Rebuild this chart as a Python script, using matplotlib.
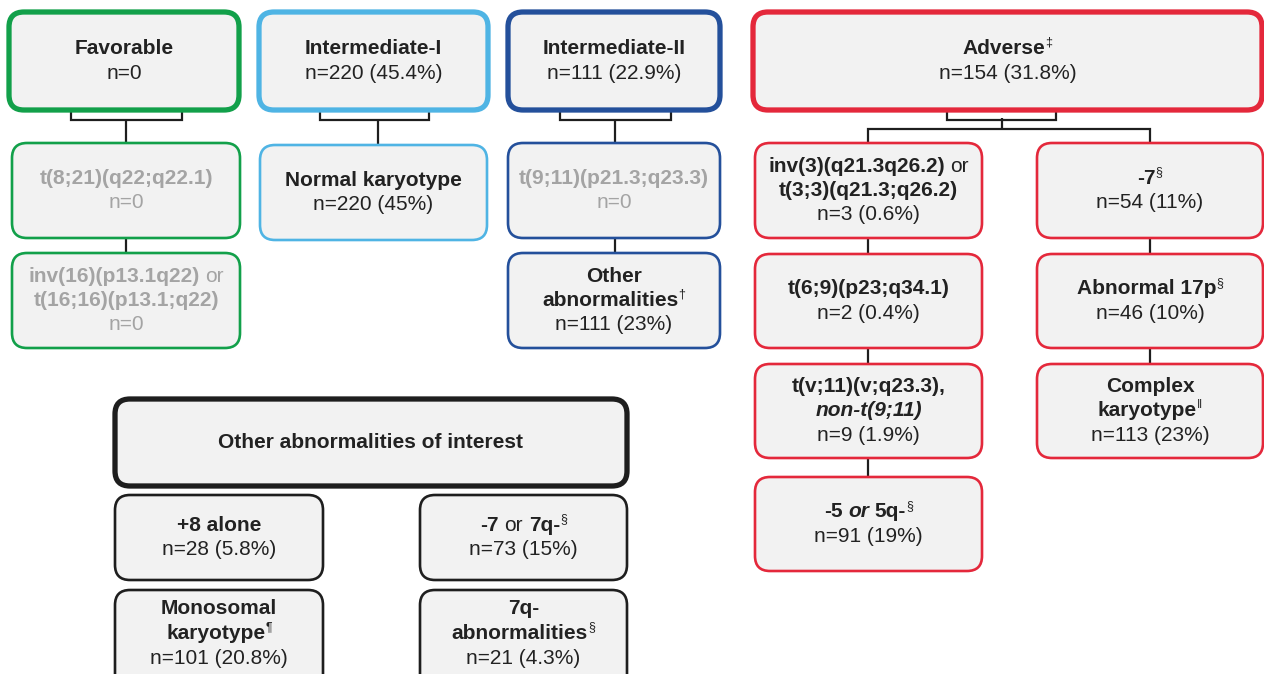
import matplotlib
matplotlib.use("Agg")
import matplotlib.pyplot as plt
from matplotlib.patches import FancyBboxPatch

# ---- data ----
header_labels = ["Favorable", "Intermediate-I", "Intermediate-II", "Adverse"]
header_marks = ["", "", "", "\u2021"]
header_counts = ["n=0", "n=220 (45.4%)", "n=111 (22.9%)", "n=154 (31.8%)"]

fav_counts = ["n=0", "n=0"]
int1_counts = ["n=220 (45%)"]
int2_counts = ["n=0", "n=111 (23%)"]
adv_left_counts = ["n=3 (0.6%)", "n=2 (0.4%)", "n=9 (1.9%)", "n=91 (19%)"]
adv_right_counts = ["n=54 (11%)", "n=46 (10%)", "n=113 (23%)"]
other_title = "Other abnormalities of interest"
other_counts = ["n=28 (5.8%)", "n=73 (15%)", "n=101 (20.8%)", "n=21 (4.3%)"]

GREEN = "#12a04a"
LBLUE = "#4fb4e4"
DBLUE = "#24509b"
RED = "#e4283b"
BLACK = "#1e1e1e"
TXT = "#222222"
GREY = "#a4a4a4"
FACE = "#f2f2f2"
FS = 15
FAM = ["Liberation Sans", "DejaVu Sans"]

fig = plt.figure(figsize=(12.64, 6.74), dpi=100)
ax = fig.add_axes([0, 0, 1, 1])
ax.set_xlim(0, 1264)
ax.set_ylim(674, 0)
ax.axis("off")
fig.canvas.draw()
renderer = fig.canvas.get_renderer()


def seg(text, b=True, i=False, sup=False, sp=False):
    return (text, b, i, sup, sp)


def box(x0, x1, y0, y1, color, lw):
    p = FancyBboxPatch((x0, y0), x1 - x0, y1 - y0,
                       boxstyle="round,pad=0,rounding_size=15",
                       fc=FACE, ec=color, lw=lw, zorder=2)
    ax.add_patch(p)


def write(xc, yc, lines, color=TXT, spacing=24.5):
    n = len(lines)
    for k, segs in enumerate(lines):
        y = yc + (k - (n - 1) / 2) * spacing
        items = []
        total = 0
        for text, b, i, sup, sp in segs:
            fs = FS * 0.6 if sup else FS
            t = ax.text(0, y, text, fontsize=fs, family=FAM,
                        fontweight="bold" if b else "normal",
                        fontstyle="italic" if i else "normal",
                        ha="left", va="center", color=color, zorder=3)
            w = t.get_window_extent(renderer).width
            gap = FS * 1.39 * 0.278 if sp else 0
            items.append((t, w, gap, sup))
            total += w + gap
        x = xc - total / 2
        for t, w, gap, sup in items:
            x += gap
            t.set_x(x)
            if sup:
                t.set_y(y - 6)
            x += w


def line(xs, ys, lw=1.6):
    ax.plot(xs, ys, color=BLACK, lw=lw, solid_capstyle="butt",
            solid_joinstyle="miter", zorder=1)


# ---- header boxes ----
headers = [(9, 239, GREEN, (71, 182)), (259, 488, LBLUE, (320, 429)),
           (508, 720, DBLUE, (560, 671)), (753, 1262, RED, (947, 1056))]
for (x0, x1, col, br), lab, mk, cnt in zip(headers, header_labels,
                                         header_marks, header_counts):
    box(x0, x1, 12, 110, col, 3.8)
    first = [seg(lab)]
    if mk:
        first.append(seg(mk, b=False, sup=True))
    write((x0 + x1) / 2, 61, [first, [seg(cnt, b=False)]], spacing=25)
    line([br[0], br[0], br[1], br[1]], [110, 120, 120, 110])

# stems from brackets
line([126, 126], [120, 143])
line([378, 378], [120, 145])
line([615, 615], [120, 143])
line([1002, 1002], [118, 129])
line([868, 868, 1150, 1150], [143, 129, 129, 143])

# ---- favorable column ----
line([126, 126], [238, 253])
box(12, 240, 143, 238, GREEN, 1.9)
write(126, 190.5, [[seg("t(8;21)(q22;q22.1)")], [seg(fav_counts[0], b=False)]],
      color=GREY)
box(12, 240, 253, 348, GREEN, 1.9)
write(126, 300.5, [[seg("inv(16)(p13.1q22)"), seg("or", b=False, sp=True)],
                   [seg("t(16;16)(p13.1;q22)")],
                   [seg(fav_counts[1], b=False)]], color=GREY)

# ---- intermediate-I ----
box(260, 487, 145, 240, LBLUE, 1.9)
write(373.5, 192.5, [[seg("Normal karyotype")], [seg(int1_counts[0], b=False)]])

# ---- intermediate-II ----
line([615, 615], [238, 253])
box(508, 720, 143, 238, DBLUE, 1.9)
write(614, 190.5, [[seg("t(9;11)(p21.3;q23.3)")], [seg(int2_counts[0], b=False)]],
      color=GREY)
box(508, 720, 253, 348, DBLUE, 1.9)
write(614, 300.5, [[seg("Other")], [seg("abnormalities"), seg("\u2020", b=False, sup=True)],
                   [seg(int2_counts[1], b=False)]])

# ---- adverse, left column ----
line([868, 868], [238, 477])
left_rows = [(143, 238), (254, 348), (364, 458), (477, 571)]
left_text = [
    [[seg("inv(3)(q21.3q26.2)"), seg("or", b=False, sp=True)],
     [seg("t(3;3)(q21.3;q26.2)")]],
    [[seg("t(6;9)(p23;q34.1)")]],
    [[seg("t(v;11)(v;q23.3),")], [seg("non-t(9;11)", i=True)]],
    [[seg("-5"), seg("or", i=True, sp=True), seg("5q-", sp=True),
      seg("\u00a7", b=False, sup=True)]],
]
for (y0, y1), txt, cnt in zip(left_rows, left_text, adv_left_counts):
    box(755, 982, y0, y1, RED, 1.9)
    write(868.5, (y0 + y1) / 2, txt + [[seg(cnt, b=False)]])

# ---- adverse, right column ----
line([1150, 1150], [238, 364])
right_rows = [(143, 238), (254, 348), (364, 458)]
right_text = [
    [[seg("-7"), seg("\u00a7", b=False, sup=True)]],
    [[seg("Abnormal 17p"), seg("\u00a7", b=False, sup=True)]],
    [[seg("Complex")], [seg("karyotype"), seg("\u2016", b=False, sup=True)]],
]
for (y0, y1), txt, cnt in zip(right_rows, right_text, adv_right_counts):
    box(1037, 1263, y0, y1, RED, 1.9)
    write(1150, (y0 + y1) / 2, txt + [[seg(cnt, b=False)]])

# ---- other abnormalities of interest ----
box(115, 627, 399, 486, BLACK, 3.8)
write(371, 442.5, [[seg(other_title)]])
other_boxes = [(115, 323, 495, 580), (420, 627, 495, 580),
               (115, 323, 590, 690), (420, 627, 590, 690)]
other_text = [
    [[seg("+8 alone")]],
    [[seg("-7"), seg("or", b=False, sp=True), seg("7q-", sp=True),
      seg("\u00a7", b=False, sup=True)]],
    [[seg("Monosomal")], [seg("karyotype"), seg("\u00b6", b=False, sup=True)]],
    [[seg("7q-")], [seg("abnormalities"), seg("\u00a7", b=False, sup=True)]],
]
other_centres = [537.5, 537.5, 633.5, 633.5]
for (x0, x1, y0, y1), txt, cnt, yc in zip(other_boxes, other_text,
                                         other_counts, other_centres):
    box(x0, x1, y0, y1, BLACK, 1.9)
    write((x0 + x1) / 2, yc, txt + [[seg(cnt, b=False)]])

fig.savefig("out.png", dpi=100)
